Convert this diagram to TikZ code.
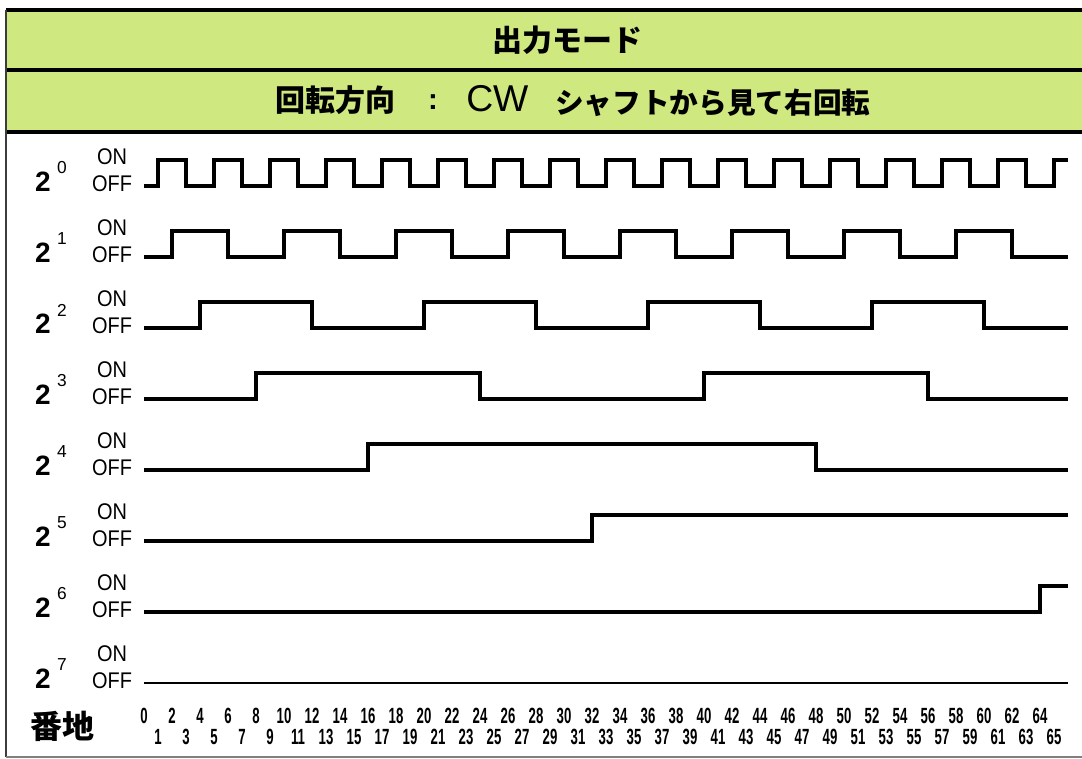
\documentclass[tikz,border=0pt]{standalone}
\usepackage{fontspec}
\setmainfont{Liberation Sans}
\newfontfamily\jp{Noto Sans CJK JP}
\newfontfamily\narrowfont[FakeStretch=0.6]{Liberation Sans}
\newfontfamily\onofffont[FakeStretch=0.88]{Liberation Sans}
\definecolor{hdr}{RGB}{207,232,128}
\definecolor{frm}{RGB}{60,60,60}
\tikzset{
  wave/.style={line width=2.7pt, line join=miter},
  onoff/.style={font=\onofffont\fontsize{17}{17}\selectfont, inner sep=0pt},
  bitlbl/.style={font=\bfseries\fontsize{21}{21}\selectfont, inner sep=0pt},
  suplbl/.style={font=\fontsize{13}{13}\selectfont, inner sep=0pt},
  addr/.style={font=\narrowfont\bfseries\fontsize{16.5}{16.5}\selectfont, inner sep=0pt},
  jptitle/.style={font=\jp\bfseries\fontsize{22.5}{22.5}\selectfont, inner sep=0pt},
  hline/.style={line width=2.4pt, black}
}
\begin{document}
\begin{tikzpicture}[x=0.75pt,y=-0.75pt]
\clip (0,0) rectangle (1082,758);
\fill[white] (0,0) rectangle (1082,758);
% header
\fill[hdr] (6,10) rectangle (1100,132);
\draw[hline] (6,10) -- (1100,10);
\draw[hline] (6,70) -- (1100,70);
\draw[hline] (6,132) -- (1100,132);
\draw[line width=1.5pt, frm] (6,10) -- (6,757);
\draw[line width=1.2pt, gray] (6,757) -- (1100,757);
\node[jptitle] (title) at (567,40) {出力モード};
\node[jptitle, anchor=west] (dir) at (275,100) {回転方向};
\node[font=\bfseries\fontsize{22}{22}\selectfont, inner sep=0pt] (colon) at (433,102) {:};
\node[font=\fontsize{28}{28}\selectfont, inner sep=0pt, anchor=west] (cw) at (466,99) {CW};
\node[jptitle, font=\jp\bfseries\fontsize{21.5}{21.5}\selectfont, anchor=west] (desc) at (555,103) {シャフトから見て右回転};
% row labels
\foreach \k in {0,...,7} {
  \node[bitlbl] (b\k) at (43,{182+71*\k}) {2};
  \node[suplbl] (s\k) at (62,{168+71*\k}) {\k};
  \node[onoff] (on\k) at (112,{157+71*\k}) {ON};
  \node[onoff] (off\k) at (112,{184+71*\k}) {OFF};
}
\node[font=\jp\bfseries\fontsize{24}{24}\selectfont, inner sep=0pt] (banchi) at (63,726) {番地};
% waveforms
\begin{scope}[xshift=108pt, x=10.5pt]
\draw[wave] (0,186) \foreach \m in {0,...,15} { -- ({4*\m+1},186) -- ({4*\m+1},160) -- ({4*\m+3},160) -- ({4*\m+3},186) } -- (65,186) -- (65,160) -- (66,160);
\draw[wave] (0,257) \foreach \m in {0,...,7} { -- ({8*\m+2},257) -- ({8*\m+2},231) -- ({8*\m+6},231) -- ({8*\m+6},257) } -- (66,257);
\draw[wave] (0,328) \foreach \m in {0,...,3} { -- ({16*\m+4},328) -- ({16*\m+4},302) -- ({16*\m+12},302) -- ({16*\m+12},328) } -- (66,328);
\draw[wave] (0,399) \foreach \m in {0,1} { -- ({32*\m+8},399) -- ({32*\m+8},373) -- ({32*\m+24},373) -- ({32*\m+24},399) } -- (66,399);
\draw[wave] (0,470) -- (16,470) -- (16,444) -- (48,444) -- (48,470) -- (66,470);
\draw[wave] (0,541) -- (32,541) -- (32,515) -- (66,515);
\draw[wave] (0,612) -- (64,612) -- (64,586) -- (66,586);
\draw[wave, line width=2pt] (0,683) -- (66,683);
\foreach \n in {0,2,...,64} { \node[addr] (a\n) at (\n,716) {\n}; }
\foreach \n in {1,3,...,65} { \node[addr] (a\n) at (\n,737) {\n}; }
\end{scope}
\end{tikzpicture}
\end{document}
